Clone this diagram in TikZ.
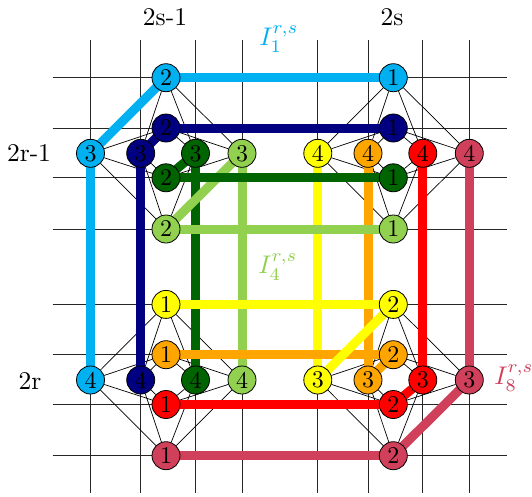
\documentclass[tikz,border=0pt]{standalone}
\usepackage{graphicx}
\definecolor{colA}{RGB}{0,176,240}
\definecolor{colB}{RGB}{0,0,128}
\definecolor{colC}{RGB}{0,100,0}
\definecolor{colD}{RGB}{146,208,80}
\definecolor{colE}{RGB}{255,255,0}
\definecolor{colF}{RGB}{255,165,0}
\definecolor{colG}{RGB}{255,0,0}
\definecolor{colH}{RGB}{208,64,90}
\newcommand{\vxt}[1]{\scalebox{2.4}{#1}}
\newcommand{\labt}[1]{\scalebox{2.55}{#1}}
\pgfdeclarelayer{gridl}
\pgfdeclarelayer{thinl}
\pgfdeclarelayer{vertl}
\pgfdeclarelayer{diagAl}
\pgfdeclarelayer{horAl}
\pgfdeclarelayer{horEl}
\pgfdeclarelayer{diagEl}
\pgfsetlayers{gridl,thinl,vertl,diagAl,horAl,horEl,diagEl,main}
\begin{document}
\begin{tikzpicture}[x=1pt,y=-1pt,
  vx/.style={circle,draw=black,line width=0.8pt,minimum size=28pt,inner sep=0pt},
  gridline/.style={draw=black!85,line width=0.9pt},
  thinedge/.style={draw=black,line width=0.7pt},
  band/.style={line width=9pt},
  lab/.style={inner sep=0pt}]
\useasboundingbox (0,0) rectangle (532,496);
% nodes of loops 1-4
\foreach \n/\u/\v/\col in {a/-75.5/-75.6/colA,b/-25.3/-25.3/colB,c/29.5/24.5/colC,d/76/75.7/colD}{
  \node[vx,fill=\col] (\n1) at (393.3,{153.3+(\v)}) {\vxt{1}};
  \node[vx,fill=\col] (\n2) at (166,{153.3+(\v)}) {\vxt{2}};
  \node[vx,fill=\col] (\n3) at ({166+(\u)},153.3) {\vxt{3}};
  \node[vx,fill=\col] (\n4) at ({166+(\u)},380) {\vxt{4}};
}
% nodes of loops 5-8
\foreach \n/\u/\v/\col in {e/-75.5/-75.6/colE,f/-25.3/-25.3/colF,g/29.5/24.5/colG,h/76/75.7/colH}{
  \node[vx,fill=\col] (\n1) at (166,{380+(\v)}) {\vxt{1}};
  \node[vx,fill=\col] (\n2) at (393.3,{380+(\v)}) {\vxt{2}};
  \node[vx,fill=\col] (\n3) at ({393.3+(\u)},380) {\vxt{3}};
  \node[vx,fill=\col] (\n4) at ({393.3+(\u)},153.3) {\vxt{4}};
}
% labels
\node[lab] (ls1) at (165,17) {\labt{2s-1}};
\node[lab] (ls2) at (392,17) {\labt{2s}};
\node[lab] (lr1) at (29,153) {\labt{2r-1}};
\node[lab] (lr2) at (30,381) {\labt{2r}};
\node[lab,text=colA] (I1) at (279,39) {\labt{$I_1^{r,s}$}};
\node[lab,text=colD] (I4) at (278,267) {\labt{$I_4^{r,s}$}};
\node[lab,text=colH] (I8) at (514,378) {\labt{$I_8^{r,s}$}};
% grid
\begin{pgfonlayer}{gridl}
\foreach \u in {-75.5,-25.3,29.5,76}{
  \draw[gridline] ({166+(\u)},40) -- ({166+(\u)},493);
  \draw[gridline] ({393.3+(\u)},40) -- ({393.3+(\u)},493);
}
\foreach \v in {-75.6,-25.3,24.5,75.7}{
  \draw[gridline] (52.7,{153.3+(\v)}) -- (506.7,{153.3+(\v)});
  \draw[gridline] (52.7,{380+(\v)}) -- (506.7,{380+(\v)});
}
\end{pgfonlayer}
% thin complete bipartite edges
\begin{pgfonlayer}{thinl}
\foreach \c in {a2,b2,c2,d2}{\foreach \r in {a3,b3,c3,d3}{\draw[thinedge] (\c) -- (\r);}}
\foreach \c in {a1,b1,c1,d1}{\foreach \r in {e4,f4,g4,h4}{\draw[thinedge] (\c) -- (\r);}}
\foreach \c in {e1,f1,g1,h1}{\foreach \r in {a4,b4,c4,d4}{\draw[thinedge] (\c) -- (\r);}}
\foreach \c in {e2,f2,g2,h2}{\foreach \r in {e3,f3,g3,h3}{\draw[thinedge] (\c) -- (\r);}}
\end{pgfonlayer}
% thick loops
\begin{pgfonlayer}{vertl}
\foreach \n/\col in {a/colA,b/colB,c/colC,d/colD,e/colE,f/colF,g/colG,h/colH}{
  \draw[band,\col] (\n3.center) -- (\n4.center);}
\end{pgfonlayer}
\begin{pgfonlayer}{diagAl}
\foreach \n/\col in {a/colA,b/colB,c/colC,d/colD}{
  \draw[band,\col] (\n2.center) -- (\n3.center);}
\end{pgfonlayer}
\begin{pgfonlayer}{horAl}
\foreach \n/\col in {a/colA,b/colB,c/colC,d/colD}{
  \draw[band,\col] (\n1.center) -- (\n2.center);}
\end{pgfonlayer}
\begin{pgfonlayer}{horEl}
\foreach \n/\col in {e/colE,f/colF,g/colG,h/colH}{
  \draw[band,\col] (\n1.center) -- (\n2.center);}
\end{pgfonlayer}
\begin{pgfonlayer}{diagEl}
\foreach \n/\col in {e/colE,f/colF,g/colG,h/colH}{
  \draw[band,\col] (\n2.center) -- (\n3.center);}
\end{pgfonlayer}
\end{tikzpicture}
\end{document}
